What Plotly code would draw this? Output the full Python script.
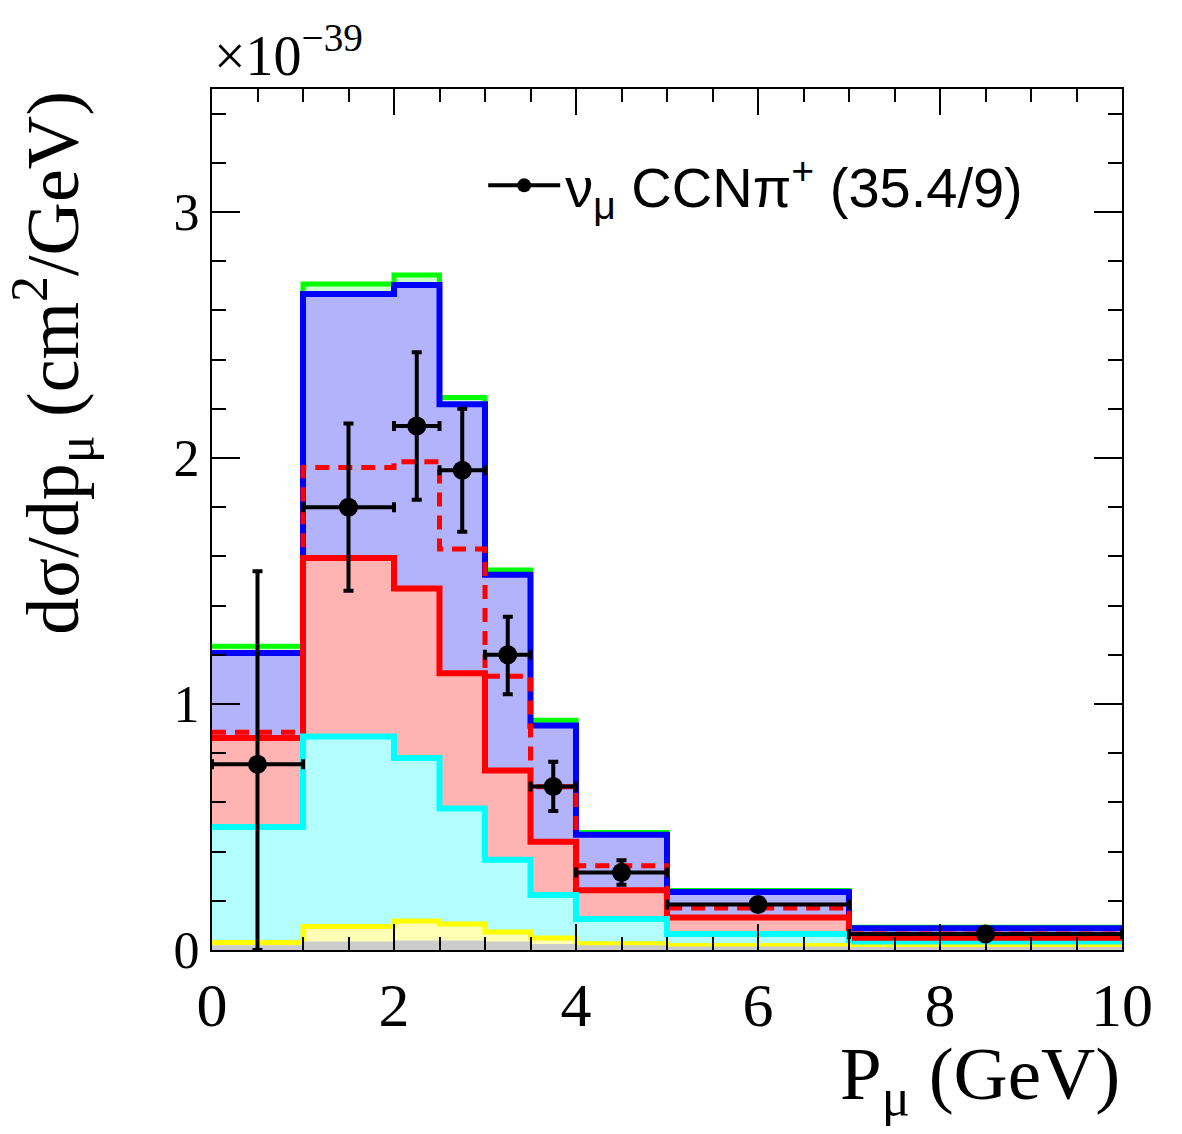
import plotly.graph_objects as go

# Bin edges in muon momentum (GeV)
bin_edges = [0, 1, 2, 2.5, 3, 3.5, 4, 5, 7, 10]
bin_centers = [0.5, 1.5, 2.25, 2.75, 3.25, 3.75, 4.5, 6.0, 8.5]
bin_halfwidth = [0.5, 0.5, 0.25, 0.25, 0.25, 0.25, 0.5, 1.0, 1.5]

# Stacked MC contributions (cumulative, units of 1e-39 cm^2/GeV)
green_total = [1.235, 2.707, 2.744, 2.246, 1.545, 0.934, 0.478, 0.242, 0.092]
blue_total = [1.207, 2.667, 2.703, 2.218, 1.525, 0.913, 0.469, 0.236, 0.088]
red_total = [0.862, 1.594, 1.470, 1.125, 0.730, 0.440, 0.243, 0.132, 0.045]
cyan_total = [0.500, 0.868, 0.780, 0.575, 0.367, 0.224, 0.126, 0.065, 0.025]
yellow_total = [0.030, 0.096, 0.118, 0.106, 0.073, 0.049, 0.025, 0.018, 0.012]
gray_total = [0.015, 0.030, 0.035, 0.035, 0.030, 0.020, 0.015, 0.010, 0.008]
red_dashed = [0.885, 1.961, 1.985, 1.630, 1.113, 0.664, 0.342, 0.171, 0.065]

# Data
data_y = [0.755, 1.80, 2.13, 1.95, 1.20, 0.665, 0.315, 0.185, 0.065]
data_err_up = [0.785, 0.34, 0.30, 0.25, 0.155, 0.10, 0.05, 0.015, 0.010]
data_err_dn = [0.755, 0.34, 0.30, 0.25, 0.16, 0.10, 0.05, 0.015, 0.010]

SERIF = "Liberation Serif"
SANS = "Liberation Sans"


def step(vals):
    return list(bin_edges), list(vals) + [vals[-1]]


fig = go.Figure()

layers = [
    (green_total, "#00ff00", "#ccffcc", 5),
    (blue_total, "#0000ff", "#b3b3fb", 6),
    (red_total, "#ff0000", "#ffb3b3", 6),
    (cyan_total, "#00ffff", "#b3ffff", 6),
    (yellow_total, "#ffff00", "#ffffb3", 5),
    (gray_total, "#cccccc", "#cccccc", 2),
]
for vals, lc, fc, lw in layers:
    xs, ys = step(vals)
    fig.add_trace(go.Scatter(
        x=xs, y=ys, mode="lines", line=dict(color=lc, width=lw, shape="hv"),
        fill="tozeroy", fillcolor=fc, showlegend=False, hoverinfo="skip"))

xs, ys = step(red_dashed)
fig.add_trace(go.Scatter(
    x=xs, y=ys, mode="lines",
    line=dict(color="#ff0000", width=5, shape="hv", dash="14px,9px"),
    showlegend=False, hoverinfo="skip"))

fig.add_trace(go.Scatter(
    x=bin_centers, y=data_y, mode="markers",
    marker=dict(color="black", size=19),
    error_y=dict(type="data", array=data_err_up, arrayminus=data_err_dn,
                 symmetric=False, color="black", thickness=4, width=5),
    error_x=dict(type="data", array=bin_halfwidth, color="black",
                 thickness=4, width=5),
    showlegend=False))

# Legend entry
fig.add_trace(go.Scatter(
    x=[None], y=[None], mode="lines+markers",
    line=dict(color="black", width=4), marker=dict(color="black", size=14),
    name="ν<sub>μ</sub> CCNπ<sup>+</sup> (35.4/9)"))

axis_common = dict(
    showline=True, linecolor="black", linewidth=2, mirror="allticks",
    ticks="inside", tickcolor="black", tickwidth=2,
    showgrid=False, zeroline=False,
)

fig.update_xaxes(
    range=[0, 10], tickvals=[0, 2, 4, 6, 8, 10], ticklen=26,
    tickfont=dict(family=SERIF, size=62, color="black"),
    minor=dict(dtick=0.5, tick0=0, ticklen=13, ticks="inside",
               tickcolor="black", tickwidth=2),
    **axis_common)
fig.update_yaxes(
    range=[0, 3.5], tickvals=[0, 1, 2, 3], ticklen=28,
    tickfont=dict(family=SERIF, size=52, color="black"),
    minor=dict(dtick=0.2, tick0=0, ticklen=14, ticks="inside",
               tickcolor="black", tickwidth=2),
    **axis_common)

fig.update_layout(
    width=1182, height=1134,
    margin=dict(l=212, r=60, t=89, b=184),
    plot_bgcolor="white", paper_bgcolor="white",
    legend=dict(x=0.298, y=0.888, xanchor="left", yanchor="middle",
                font=dict(family=SANS, size=56, color="black"),
                bgcolor="rgba(0,0,0,0)", itemwidth=72),
    annotations=[
        dict(text="P<sub>μ</sub> (GeV)", xref="paper", yref="paper",
             x=1.0, y=-0.15, xanchor="right", yanchor="middle",
             showarrow=False, font=dict(family=SERIF, size=75, color="black")),
        dict(text="dσ/dp<sub>μ</sub> (cm<sup>2</sup>/GeV)", xref="paper", yref="paper",
             x=-0.175, y=1.0, xanchor="center", yanchor="top", textangle=-90,
             showarrow=False, font=dict(family=SERIF, size=74, color="black")),
        dict(text="×10<sup>−39</sup>", xref="paper", yref="paper",
             x=0.0, y=1.0, xanchor="left", yanchor="bottom",
             showarrow=False, font=dict(family=SERIF, size=56, color="black")),
    ],
)

fig.write_html("out.html")
